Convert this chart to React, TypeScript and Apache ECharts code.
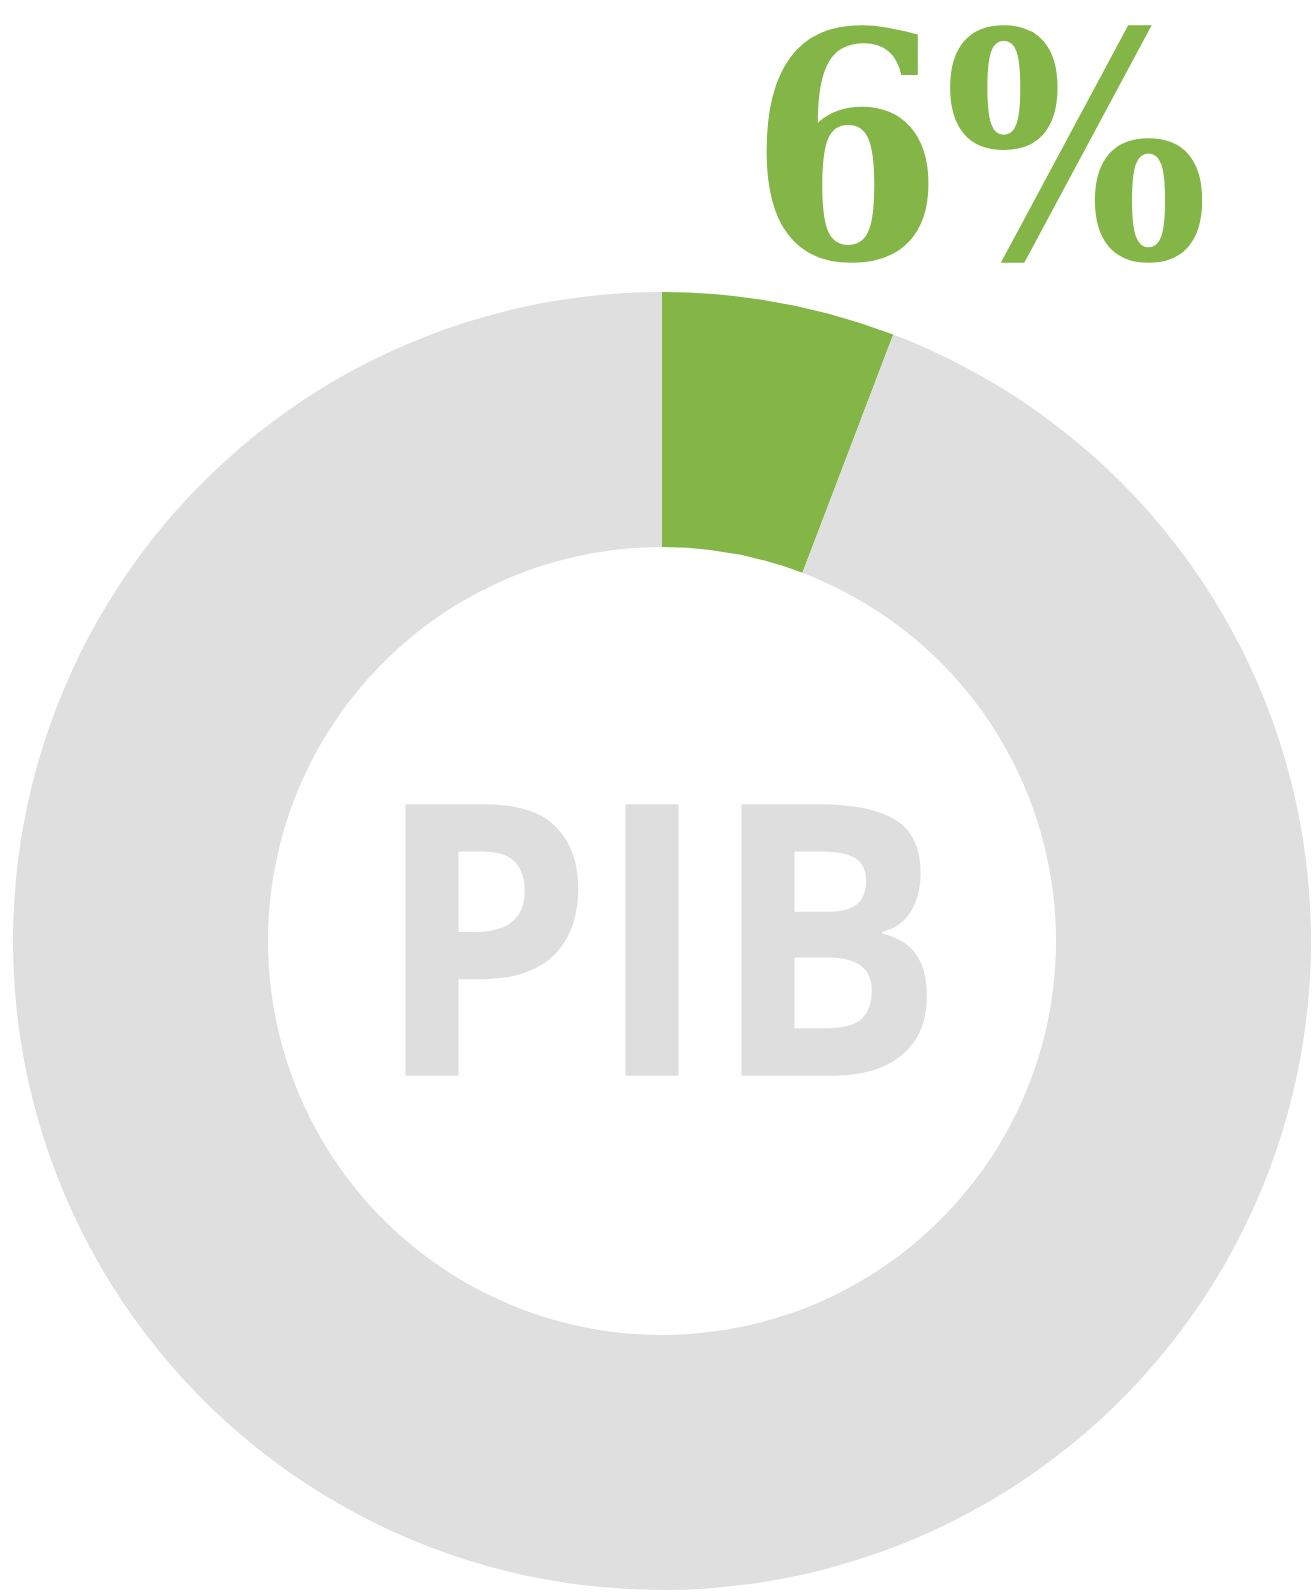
import React, { useEffect, useRef } from "react";
import * as echarts from "echarts";

const categories = ["PIB", "Resto"];
const values = [5.8, 94.2];
const colors = ["#84b547", "#dfdfdf"];
const centerLabel = "PIB";
const valueLabel = "6%";

export default function App() {
  const ref = useRef<HTMLDivElement>(null);
  useEffect(() => {
    const chart = echarts.init(ref.current!, null, { renderer: "svg" });
    chart.setOption({
      animation: false,
      backgroundColor: "#ffffff",
      series: [
        {
          type: "pie",
          center: [662, 941],
          radius: [394, 649],
          startAngle: 90,
          clockwise: true,
          silent: true,
          label: { show: false },
          labelLine: { show: false },
          itemStyle: { borderWidth: 0 },
          data: categories.map((c, i) => ({
            name: c,
            value: values[i],
            itemStyle: { color: colors[i] },
          })),
        },
      ],
      graphic: [
        {
          type: "text",
          x: 374,
          y: 928,
          scaleX: 0.922,
          style: {
            text: centerLabel,
            fontFamily: "Open Sans",
            fontWeight: "bold",
            fontSize: 380,
            lineHeight: 300,
            fill: "#dedede",
            align: "left",
            verticalAlign: "middle",
          },
        },
        {
          type: "text",
          x: 1209,
          y: 148,
          scaleX: 0.89,
          style: {
            text: valueLabel,
            fontFamily: "DejaVu Serif",
            fontWeight: "bold",
            fontSize: 314,
            lineHeight: 240,
            fill: "#84b547",
            align: "right",
            verticalAlign: "middle",
          },
        },
      ],
    });
    return () => chart.dispose();
  }, []);
  return (
    <div
      ref={ref}
      style={{ position: "absolute", left: 0, top: 0, width: 1312, height: 1593 }}
    />
  );
}
